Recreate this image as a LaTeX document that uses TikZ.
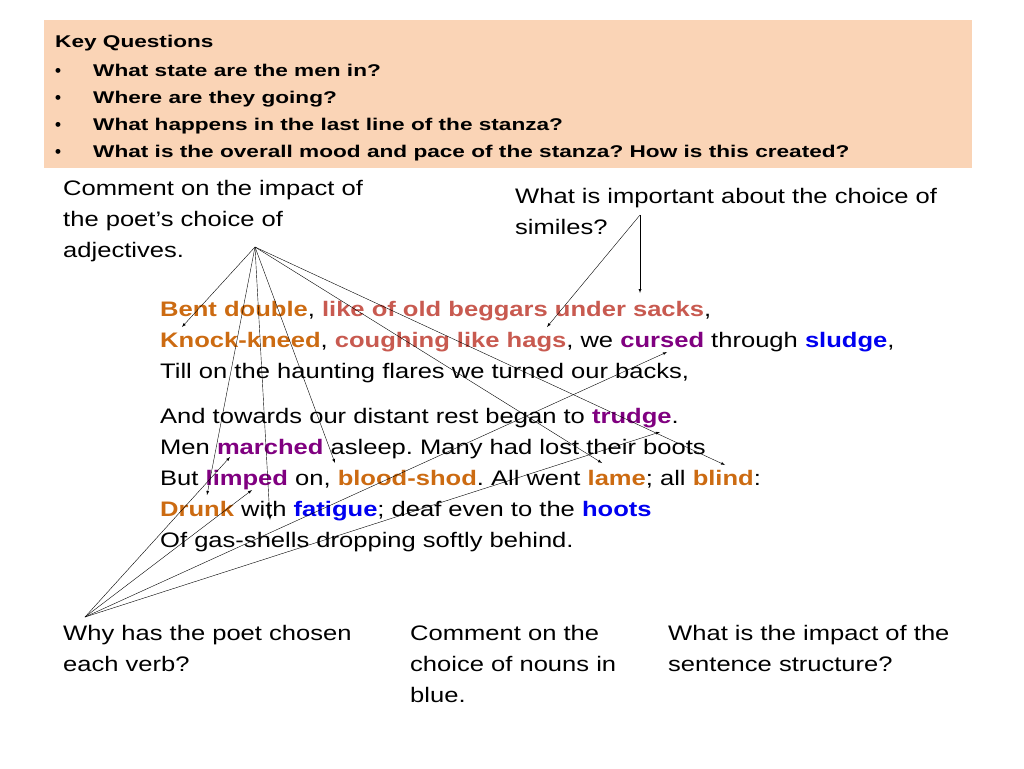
\documentclass[tikz,border=0pt]{standalone}
\usepackage{fontspec}
\usepackage{graphicx}
\setmainfont{Liberation Sans}
\frenchspacing
\definecolor{hdr}{HTML}{FAD4B6}
\definecolor{orn}{HTML}{CC6B12}
\definecolor{ros}{HTML}{C85A50}
\definecolor{pur}{HTML}{800080}
\definecolor{blu}{HTML}{0000F0}
\newcommand{\ob}[1]{\textbf{\textcolor{orn}{#1}}}
\newcommand{\rb}[1]{\textbf{\textcolor{ros}{#1}}}
\newcommand{\pb}[1]{\textbf{\textcolor{pur}{#1}}}
\newcommand{\bb}[1]{\textbf{\textcolor{blu}{#1}}}
\newcommand{\sx}[1]{\scalebox{1.217}[1]{#1}}
\newcommand{\hx}[1]{\scalebox{1.33}[1]{#1}}
\begin{document}
\begin{tikzpicture}[x=1pt,y=-1pt,
  txt/.style={anchor=base west,inner sep=0pt,font=\fontsize{21}{31}\selectfont},
  hq/.style={anchor=base west,inner sep=0pt,font=\fontsize{17}{20}\selectfont\bfseries},
  arr/.style={-latex,thin}]
\useasboundingbox (0,0) rectangle (1024,768);
\fill[hdr] (44,20) rectangle (972,168);
\node[hq] (h0) at (55,48) {\hx{Key Questions}};
\foreach \y/\t [count=\i] in {76/What state are the men in?,103/Where are they going?,130/What happens in the last line of the stanza?,157/What is the overall mood and pace of the stanza? How is this created?}{
  \node[hq] (b\i) at (55,\y) {•};
  \node[hq] (q\i) at (93,\y) {\hx{\t}};
}
\node[txt] (c1) at (63,195) {\sx{Comment on the impact of}};
\node[txt] (c2) at (63,226) {\sx{the poet’s choice of}};
\node[txt] (c3) at (63,257) {\sx{adjectives.}};
\node[txt] (s1) at (515,203) {\sx{What is important about the choice of}};
\node[txt] (s2) at (515,234) {\sx{similes?}};
\node[txt] (p1) at (160,316) {\sx{\ob{Bent double}, \rb{like of old beggars under sacks},}};
\node[txt] (p2) at (160,347) {\sx{\ob{Knock-kneed}, \rb{coughing like hags}, we \pb{cursed} through \bb{sludge},}};
\node[txt] (p3) at (160,378) {\sx{Till on the haunting flares we turned our backs,}};
\node[txt] (p4) at (160,423) {\sx{And towards our distant rest began to \pb{trudge}.}};
\node[txt] (p5) at (160,454) {\sx{Men \pb{marched} asleep. Many had lost their boots}};
\node[txt] (p6) at (160,485) {\sx{But \pb{limped} on, \ob{blood-shod}. All went \ob{lame}; all \ob{blind}:}};
\node[txt] (p7) at (160,516) {\sx{\ob{Drunk} with \bb{fatigue}; deaf even to the \bb{hoots}}};
\node[txt] (p8) at (160,547) {\sx{Of gas-shells dropping softly behind.}};
\node[txt] (v1) at (63,640) {\sx{Why has the poet chosen}};
\node[txt] (v2) at (63,671) {\sx{each verb?}};
\node[txt] (n1) at (410,640) {\sx{Comment on the}};
\node[txt] (n2) at (410,671) {\sx{choice of nouns in}};
\node[txt] (n3) at (410,702) {\sx{blue.}};
\node[txt] (t1) at (668,640) {\sx{What is the impact of the}};
\node[txt] (t2) at (668,671) {\sx{sentence structure?}};
\coordinate (ao) at (255,247);
\coordinate (so) at (640,215);
\coordinate (vo) at (85,617);
\foreach \p in {(182,327),(207,495),(270,520),(335,463),(602,463),(725,465)}
  \draw[arr] (ao) -- \p;
\draw[arr] (so) -- (547,327);
\draw[arr] (so) -- (640,293);
\foreach \p in {(230,457),(252,490),(667,352),(660,432)}
  \draw[arr] (vo) -- \p;
\end{tikzpicture}
\end{document}
